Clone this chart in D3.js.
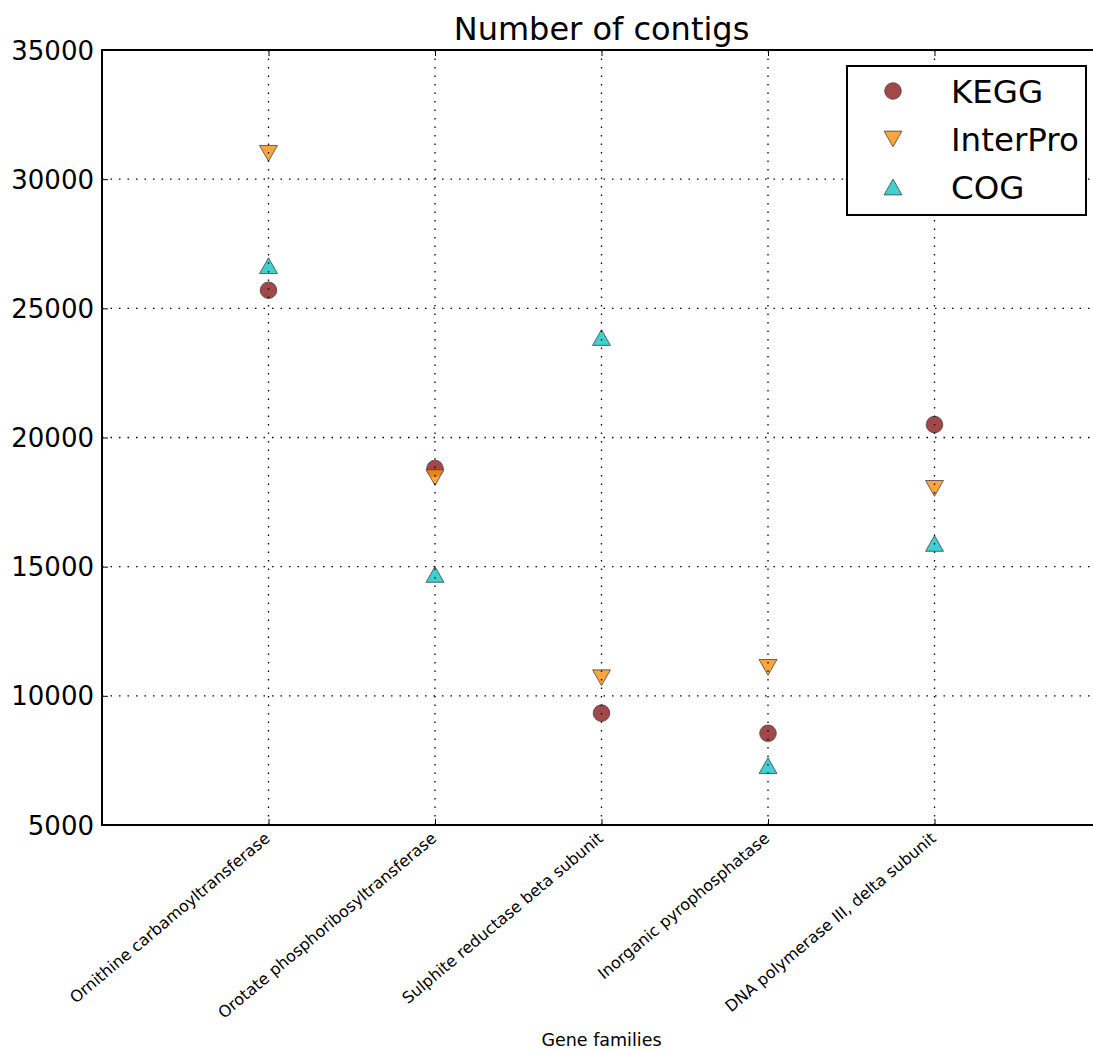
<!DOCTYPE html>
<html>
<head>
<meta charset="utf-8">
<script src="https://cdn.jsdelivr.net/npm/d3@7"></script>
<style>
  html, body { margin: 0; padding: 0; background: #fff; overflow: hidden; }
  text { font-family: "DejaVu Sans", sans-serif; }
</style>
</head>
<body>
<svg id="chart" width="1093" height="1051"></svg>
<script>
// Gene families on the x axis
const categories = [
  "Ornithine carbamoyltransferase",
  "Orotate phosphoribosyltransferase",
  "Sulphite reductase beta subunit",
  "Inorganic pyrophosphatase",
  "DNA polymerase III, delta subunit"
];
// Contig counts per annotation source
const keggValues     = [25700, 18800, 9330, 8550, 20500];
const interproValues = [31000, 18450, 10700, 11100, 18030];
const cogValues      = [26650, 14700, 23870, 7300, 15900];
const yTicks = [5000, 10000, 15000, 20000, 25000, 30000, 35000];

const series = [
  { name: "KEGG",     values: keggValues,     shape: "circle", color: "#8b1a1a" },
  { name: "InterPro", values: interproValues, shape: "down",   color: "#ff8e10" },
  { name: "COG",      values: cogValues,      shape: "up",     color: "#10c4c4" }
];

const svg = d3.select("#chart");
const plotL = 102, plotR = 1101, plotT = 50, plotB = 825;

const x = d3.scaleLinear().domain([-1, categories.length]).range([plotL, plotR]);
const y = d3.scaleLinear().domain([5000, 35000]).range([plotB, plotT]);

// Marker path generators
function markerPath(shape, s) {
  if (shape === "circle") {
    return d3.symbol().type(d3.symbolCircle).size(Math.PI * s * s)();
  }
  const w = s * 1.08, h = s * 0.95;
  if (shape === "up") return `M0,${-h}L${w},${h}L${-w},${h}Z`;
  return `M0,${h}L${w},${-h}L${-w},${-h}Z`;
}

// Data markers
const markers = svg.append("g");
series.forEach(s => {
  markers.selectAll(null)
    .data(s.values)
    .join("path")
    .attr("transform", (d, i) => `translate(${x(i)},${y(d)})`)
    .attr("d", markerPath(s.shape, 8.3))
    .attr("fill", s.color)
    .attr("fill-opacity", 0.8)
    .attr("stroke", "#444")
    .attr("stroke-opacity", 0.8)
    .attr("stroke-width", 1);
});

// Dotted grid on top of markers
const grid = svg.append("g")
  .attr("stroke", "#000")
  .attr("stroke-width", 1.3)
  .attr("stroke-dasharray", "1.5,7");
grid.selectAll(".gx")
  .data(categories.map((c, i) => i))
  .join("line")
  .attr("x1", d => x(d)).attr("x2", d => x(d))
  .attr("y1", plotT).attr("y2", plotB);
grid.selectAll(".gy")
  .data(yTicks.slice(1, -1))
  .join("line")
  .attr("x1", plotL).attr("x2", plotR)
  .attr("y1", d => y(d)).attr("y2", d => y(d));

// Axes with inward ticks
const yAxis = d3.axisLeft(y).tickValues(yTicks).tickSize(-6).tickPadding(8).tickFormat(d3.format("d"));
const gy = svg.append("g").attr("transform", `translate(${plotL},0)`).call(yAxis);
gy.select(".domain").remove();
gy.selectAll("line").attr("stroke", "#000").attr("stroke-width", 1);
gy.selectAll("text").attr("font-size", 26).attr("fill", "#000").attr("dy", "0.35em");

const yAxisR = d3.axisRight(y).tickValues(yTicks).tickSize(-6).tickFormat("");
const gyr = svg.append("g").attr("transform", `translate(${plotR},0)`).call(yAxisR);
gyr.select(".domain").remove();

const xAxis = d3.axisBottom(x).tickValues(categories.map((c, i) => i)).tickSize(-6)
  .tickFormat(i => categories[i]);
const gx = svg.append("g").attr("transform", `translate(0,${plotB})`).call(xAxis);
gx.select(".domain").remove();
gx.selectAll("line").attr("stroke", "#000");
gx.selectAll("text")
  .attr("font-size", 16)
  .attr("fill", "#000")
  .attr("text-anchor", "end")
  .attr("y", 0).attr("dy", 0)
  .attr("transform", "translate(2,15) rotate(-40)");

const xAxisT = d3.axisTop(x).tickValues(categories.map((c, i) => i)).tickSize(-6).tickFormat("");
const gxt = svg.append("g").attr("transform", `translate(0,${plotT})`).call(xAxisT);
gxt.select(".domain").remove();

// Frame
svg.append("rect")
  .attr("x", plotL).attr("y", plotT)
  .attr("width", plotR - plotL).attr("height", plotB - plotT)
  .attr("fill", "none").attr("stroke", "#000").attr("stroke-width", 2);

// Title and axis label
svg.append("text")
  .attr("x", (plotL + plotR) / 2).attr("y", 40)
  .attr("text-anchor", "middle").attr("font-size", 32)
  .text("Number of contigs");
svg.append("text")
  .attr("x", (plotL + plotR) / 2).attr("y", 1046)
  .attr("text-anchor", "middle").attr("font-size", 17.5)
  .text("Gene families");

// Legend
const lg = svg.append("g").attr("transform", "translate(847,66)");
lg.append("rect")
  .attr("width", 239).attr("height", 149)
  .attr("fill", "#fff").attr("stroke", "#000").attr("stroke-width", 2);
series.forEach((s, i) => {
  const ry = 25 + i * 48;
  lg.append("path")
    .attr("transform", `translate(46,${ry})`)
    .attr("d", markerPath(s.shape, 8.3))
    .attr("fill", s.color).attr("fill-opacity", 0.8)
    .attr("stroke", "#444").attr("stroke-opacity", 0.8);
  lg.append("text")
    .attr("x", 104).attr("y", ry).attr("dy", "0.36em")
    .attr("font-size", 32.5)
    .text(s.name);
});
</script>
</body>
</html>
